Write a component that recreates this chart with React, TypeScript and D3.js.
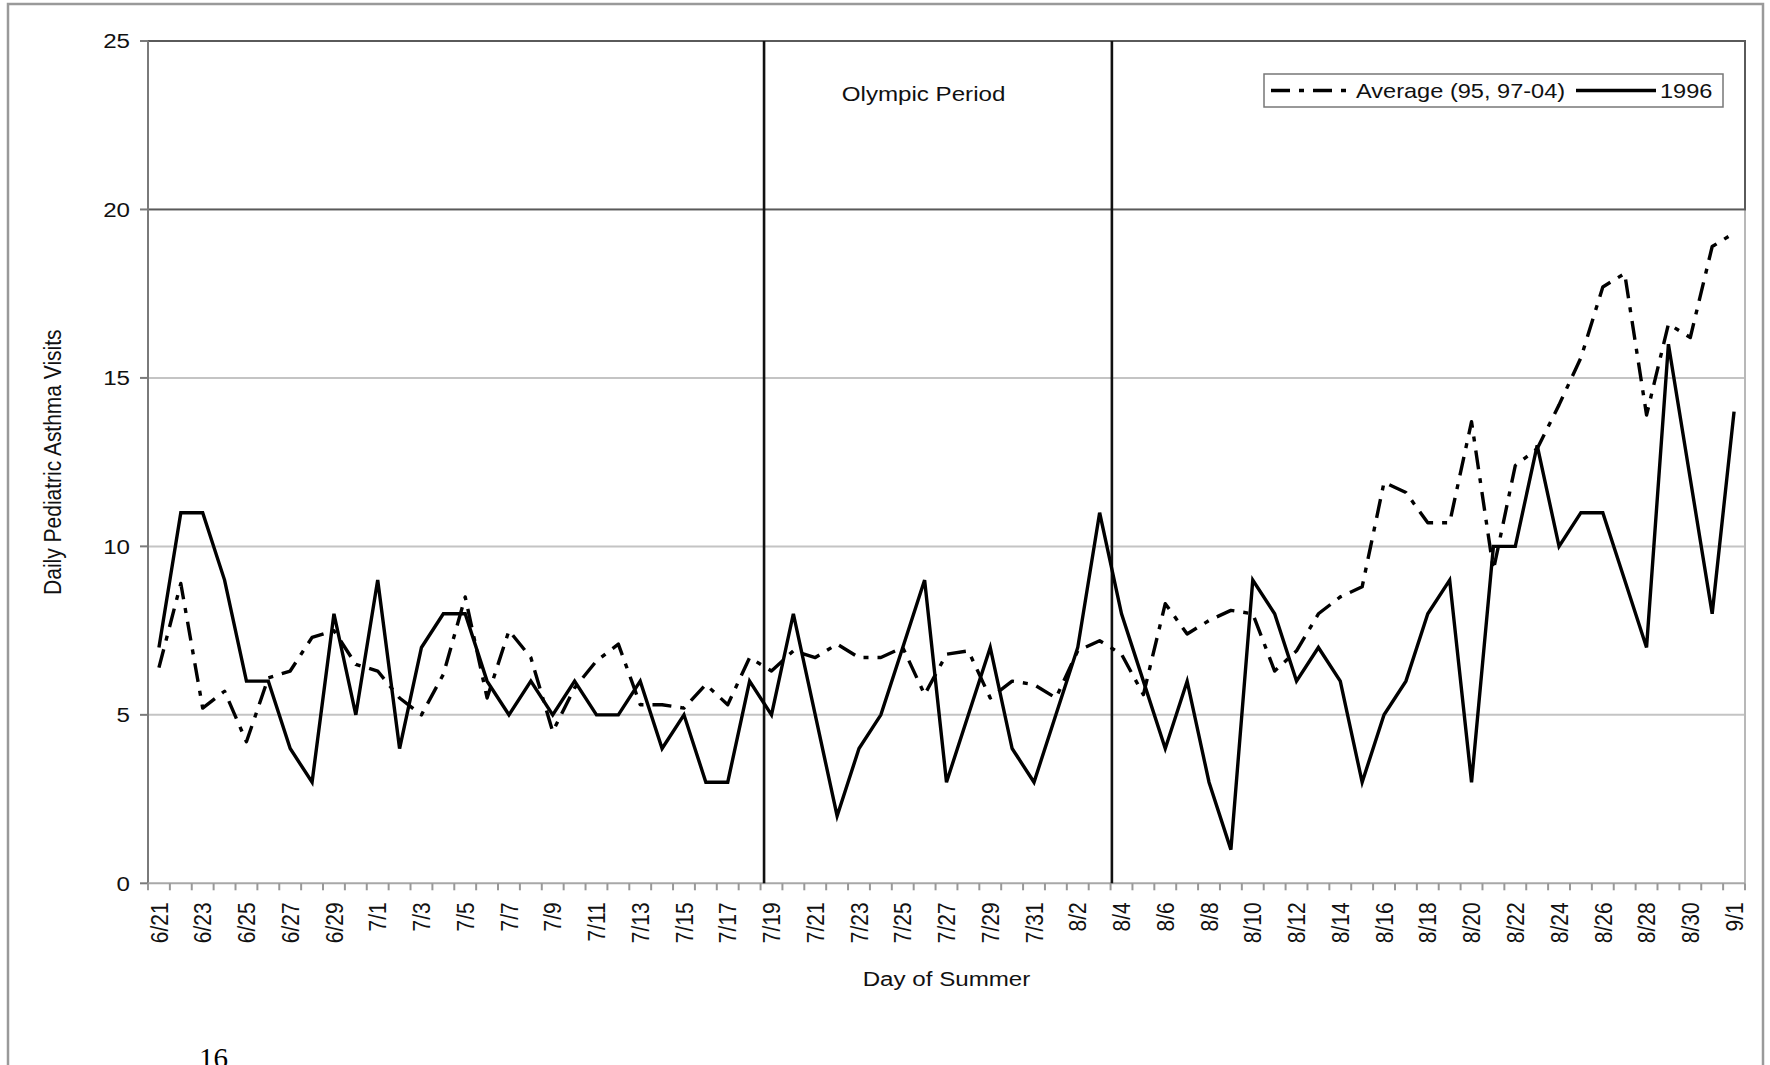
import React from "react";
import * as d3 from "d3";

const days: string[] = [
  "6/21","6/22","6/23","6/24","6/25","6/26","6/27","6/28","6/29","6/30",
  "7/1","7/2","7/3","7/4","7/5","7/6","7/7","7/8","7/9","7/10",
  "7/11","7/12","7/13","7/14","7/15","7/16","7/17","7/18","7/19","7/20",
  "7/21","7/22","7/23","7/24","7/25","7/26","7/27","7/28","7/29","7/30","7/31",
  "8/1","8/2","8/3","8/4","8/5","8/6","8/7","8/8","8/9","8/10",
  "8/11","8/12","8/13","8/14","8/15","8/16","8/17","8/18","8/19","8/20",
  "8/21","8/22","8/23","8/24","8/25","8/26","8/27","8/28","8/29","8/30","8/31",
  "9/1",
];

const visits1996: number[] = [
  7, 11, 11, 9, 6, 6, 4, 3, 8, 5,
  9, 4, 7, 8, 8, 6, 5, 6, 5, 6,
  5, 5, 6, 4, 5, 3, 3, 6, 5, 8,
  5, 2, 4, 5, 7, 9, 3, 5, 7, 4, 3,
  5, 7, 11, 8, 6, 4, 6, 3, 1, 9,
  8, 6, 7, 6, 3, 5, 6, 8, 9, 3,
  10, 10, 13, 10, 11, 11, 9, 7, 16, 12, 8,
  14,
];

const visitsAverage: number[] = [
  6.4, 8.9, 5.2, 5.7, 4.2, 6.1, 6.3, 7.3, 7.5, 6.5,
  6.3, 5.5, 5.0, 6.2, 8.5, 5.5, 7.5, 6.7, 4.5, 5.8,
  6.6, 7.1, 5.3, 5.3, 5.2, 5.9, 5.3, 6.7, 6.3, 6.9,
  6.7, 7.1, 6.7, 6.7, 7.0, 5.6, 6.8, 6.9, 5.5, 6.0, 5.9,
  5.5, 6.9, 7.2, 6.8, 5.6, 8.3, 7.4, 7.8, 8.1, 8.0,
  6.3, 6.9, 8.0, 8.5, 8.8, 11.9, 11.6, 10.7, 10.7, 13.7,
  9.3, 12.4, 12.9, 14.2, 15.6, 17.7, 18.1, 13.9, 16.6, 16.2, 18.9,
  19.3,
];

const yTicks: number[] = [0, 5, 10, 15, 20, 25];
const olympicBounds: { day: string; frac: number }[] = [
  { day: "7/19", frac: 0.16 },
  { day: "8/4", frac: 0.06 },
];
const seriesNames = ["Average (95, 97-04)", "1996"];

const W = 1770;
const H = 1065;
const M = { left: 148, right: 1745, top: 41, bottom: 883.3 };
const K = 1.15; // horizontal stretch of the source image's text
const FONT = "'Liberation Sans', Arial, Helvetica, sans-serif";
const DASH = "19,9,5,9";
const LW = 3.4;

export default function App() {
  const x = d3.scaleBand<string>().domain(days).range([M.left, M.right]).padding(0);
  const bw = x.bandwidth();
  const cx = (d: string) => (x(d) as number) + bw / 2;
  const y = d3.scaleLinear().domain([0, 25]).range([M.bottom, M.top]);

  const line = d3
    .line<number>()
    .x((_, i) => cx(days[i]))
    .y((v) => y(v));

  const tickXs = days.map((d) => x(d) as number).concat([M.right]);

  return (
    <svg
      width={W}
      height={H}
      style={{ position: "absolute", left: 0, top: 0, background: "#fff" }}
      fontFamily={FONT}
    >
      <rect x={0} y={0} width={W} height={H} fill="#fff" />
      {/* outer frame */}
      <rect x={8} y={4} width={1755} height={1100} fill="none" stroke="#9a9a9a" strokeWidth={2.5} />

      {/* gridlines */}
      {yTicks.filter((t) => t > 0 && t < 20).map((t) => (
        <line key={t} x1={M.left} x2={M.right} y1={y(t)} y2={y(t)} stroke="#c4c4c4" strokeWidth={2} />
      ))}
      {/* right plot border */}
      <line x1={M.right} x2={M.right} y1={y(20)} y2={y(0)} stroke="#b8b8b8" strokeWidth={2} />
      {/* dark upper band outline (20-25) */}
      <rect x={M.left} y={y(25)} width={M.right - M.left} height={y(20) - y(25)} fill="none" stroke="#5a5a5a" strokeWidth={2} />

      {/* y axis */}
      <line x1={M.left} x2={M.left} y1={y(25)} y2={y(0)} stroke="#7a7a7a" strokeWidth={2} />
      {yTicks.map((t) => (
        <g key={t}>
          <line x1={M.left - 8} x2={M.left} y1={y(t)} y2={y(t)} stroke="#7a7a7a" strokeWidth={2} />
          <text
            transform={`translate(${M.left - 18},${y(t)}) scale(${K},1)`}
            textAnchor="end"
            dy="0.35em"
            fontSize={21}
            fill="#111"
          >
            {t}
          </text>
        </g>
      ))}

      {/* x axis */}
      <line x1={M.left} x2={M.right} y1={y(0)} y2={y(0)} stroke="#a8a8a8" strokeWidth={2} />
      {tickXs.map((tx, i) => (
        <line key={i} x1={tx} x2={tx} y1={y(0)} y2={y(0) + 7} stroke="#999" strokeWidth={2} />
      ))}
      {days.map((d, i) =>
        i % 2 === 0 ? (
          <text
            key={d}
            transform={`translate(${cx(d)},${y(0) + 19}) scale(${K},1) rotate(-90)`}
            textAnchor="end"
            dy="0.36em"
            fontSize={21}
            fill="#111"
          >
            {d}
          </text>
        ) : null
      )}

      {/* olympic period lines */}
      {olympicBounds.map((b) => {
        const lx = (x(b.day) as number) + b.frac * bw;
        return <line key={b.day} x1={lx} x2={lx} y1={y(25)} y2={y(0)} stroke="#111" strokeWidth={2.6} />;
      })}
      <text
        transform={`translate(${((x(olympicBounds[0].day) as number) + (x(olympicBounds[1].day) as number)) / 2 - 12},101) scale(${K},1)`}
        textAnchor="middle"
        fontSize={21}
        fill="#111"
      >
        Olympic Period
      </text>

      {/* series */}
      <path d={line(visitsAverage) || ""} fill="none" stroke="#000" strokeWidth={LW} strokeDasharray={DASH} strokeLinejoin="round" />
      <path d={line(visits1996) || ""} fill="none" stroke="#000" strokeWidth={LW} strokeLinejoin="miter" />

      {/* legend */}
      <g>
        <rect x={1264} y={74} width={459} height={33} fill="#fff" stroke="#777" strokeWidth={1.5} />
        <line x1={1271} x2={1348} y1={90.5} y2={90.5} stroke="#000" strokeWidth={LW} strokeDasharray={DASH} />
        <text transform={`translate(1356,90.5) scale(${K},1)`} dy="0.35em" fontSize={20.5} fill="#111">
          {seriesNames[0]}
        </text>
        <line x1={1576} x2={1656} y1={90.5} y2={90.5} stroke="#000" strokeWidth={LW} />
        <text transform={`translate(1660,90.5) scale(${K},1)`} dy="0.35em" fontSize={20.5} fill="#111">
          {seriesNames[1]}
        </text>
      </g>

      {/* axis titles */}
      <text
        transform={`translate(61,${(y(0) + y(25)) / 2}) scale(${K},1) rotate(-90)`}
        textAnchor="middle"
        fontSize={21}
        fill="#111"
      >
        Daily Pediatric Asthma Visits
      </text>
      <text
        transform={`translate(${(M.left + M.right) / 2},986) scale(${K},1)`}
        textAnchor="middle"
        fontSize={21}
        fill="#111"
      >
        Day of Summer
      </text>

      {/* page number (cut by the bottom edge, as in the source) */}
      <text x={199} y={1068} fontFamily="'Liberation Serif', 'Times New Roman', serif" fontSize={29} fill="#000">
        16
      </text>
    </svg>
  );
}
